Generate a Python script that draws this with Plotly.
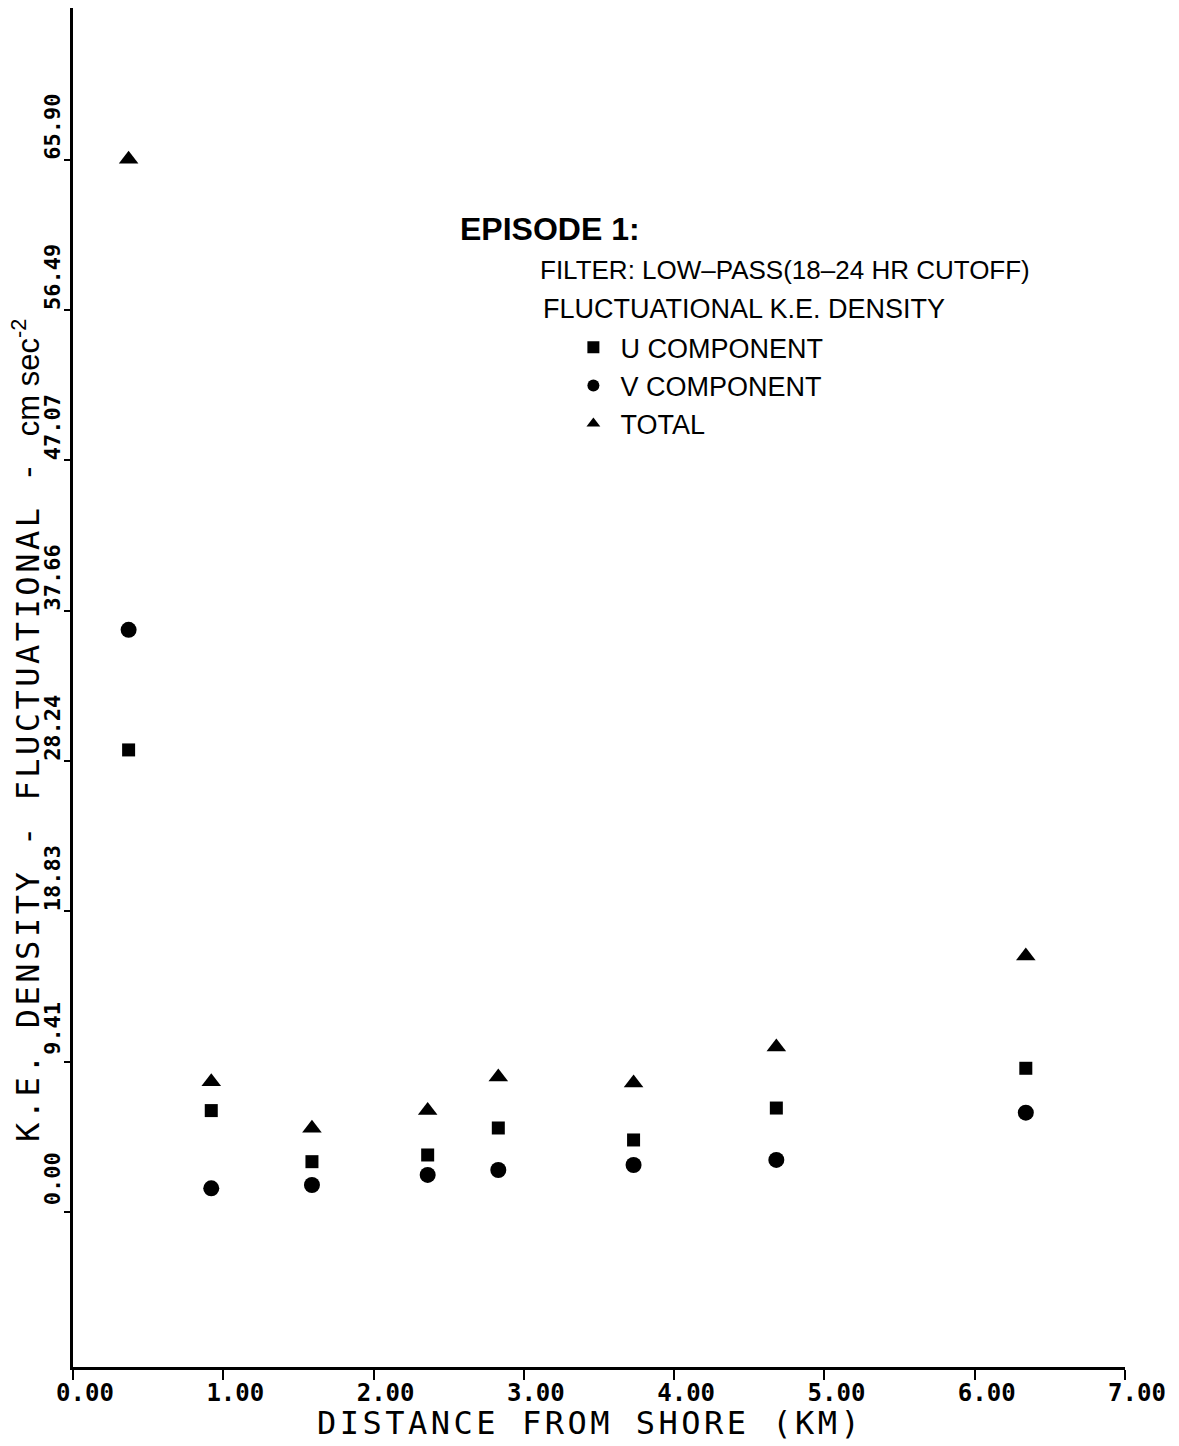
import plotly.graph_objects as go

# Distance of each station from shore (km)
distance_km = [0.37, 0.92, 1.59, 2.36, 2.83, 3.73, 4.68, 6.34]

# Fluctuational kinetic-energy density (cm sec^-2)
u_component = [28.94, 6.35, 3.15, 3.57, 5.26, 4.51, 6.51, 9.00]
v_component = [36.46, 1.48, 1.69, 2.32, 2.63, 2.94, 3.26, 6.22]
total_ke = [65.94, 8.16, 5.24, 6.35, 8.46, 8.08, 10.34, 16.04]

x_tick_vals = [0, 1, 2, 3, 4, 5, 6, 7]
x_tick_text = ["0.00", "1.00", "2.00", "3.00", "4.00", "5.00", "6.00", "7.00"]
y_tick_vals = [0.0, 9.414, 18.829, 28.243, 37.657, 47.071, 56.486, 65.90]
y_tick_text = ["0.00", "9.41", "18.83", "28.24", "37.66", "47.07", "56.49", "65.90"]

MONO = "DejaVu Sans Mono"
SANS = "Liberation Sans"

fig = go.Figure()
fig.add_trace(go.Scatter(
    x=distance_km, y=u_component, mode="markers", name="U COMPONENT",
    marker=dict(symbol="square", size=13, color="black"),
))
fig.add_trace(go.Scatter(
    x=distance_km, y=v_component, mode="markers", name="V COMPONENT",
    marker=dict(symbol="circle", size=16, color="black"),
))
fig.add_trace(go.Scatter(
    x=distance_km, y=total_ke, mode="markers", name="TOTAL",
    marker=dict(symbol="triangle-up", size=17, color="black"),
))

fig.update_layout(
    width=1179, height=1446,
    margin=dict(l=73, r=54, t=8, b=79),
    paper_bgcolor="white", plot_bgcolor="white",
    showlegend=True,
    legend=dict(
        x=0.469, y=0.768, xanchor="left", yanchor="top",
        font=dict(family=SANS, size=27, color="black"),
        bgcolor="rgba(0,0,0,0)", itemsizing="constant", itemwidth=44,
        tracegroupgap=0, itemclick=False,
    ),
    xaxis=dict(
        range=[0, 7], tickvals=x_tick_vals, ticktext=x_tick_text,
        showline=True, linecolor="black", linewidth=3,
        ticks="outside", ticklen=10, tickwidth=2, tickcolor="black",
        tickfont=dict(family=MONO, size=24, color="black", weight="bold"),
        ticklabelshift=12, ticklabelstandoff=-8,
        showgrid=False, zeroline=False,
    ),
    yaxis=dict(
        range=[-9.71, 75.41], tickvals=y_tick_vals, ticktext=y_tick_text,
        showline=True, linecolor="black", linewidth=3,
        ticks="outside", ticklen=6, tickwidth=2, tickcolor="black",
        tickangle=-90, ticklabelshift=-30, ticklabelstandoff=-5,
        tickfont=dict(family=MONO, size=22, color="black", weight="bold"),
        showgrid=False, zeroline=False,
    ),
)

spaced = "letter-spacing:3.5px"
annotations = [
    dict(text=f"<span style='{spaced}'>K.E. DENSITY - FLUCTUATIONAL - </span>"
              "<span style='font-family:Liberation Sans;font-size:31px'>cm sec<sup>-2</sup></span>",
         x=-0.0447, y=0.4687, textangle=-90,
         font=dict(family=MONO, size=32, color="black")),
    dict(text=f"<span style='{spaced}'>DISTANCE FROM SHORE (KM)</span>",
         x=0.4914, y=-0.0415,
         font=dict(family=MONO, size=32, color="black")),
    dict(text="EPISODE 1:", x=0.366, y=0.8374, xanchor="left",
         font=dict(family=SANS, size=32, color="black", weight="bold")),
    dict(text="FILTER: LOW–PASS(18–24 HR CUTOFF)", x=0.442, y=0.8072, xanchor="left",
         font=dict(family=SANS, size=26, color="black")),
    dict(text="FLUCTUATIONAL K.E. DENSITY", x=0.4449, y=0.7785, xanchor="left",
         font=dict(family=SANS, size=27, color="black")),
]
for a in annotations:
    a.setdefault("xanchor", "center")
    a.setdefault("yanchor", "middle")
    fig.add_annotation(xref="paper", yref="paper", showarrow=False, **a)

fig.write_html("out.html")
